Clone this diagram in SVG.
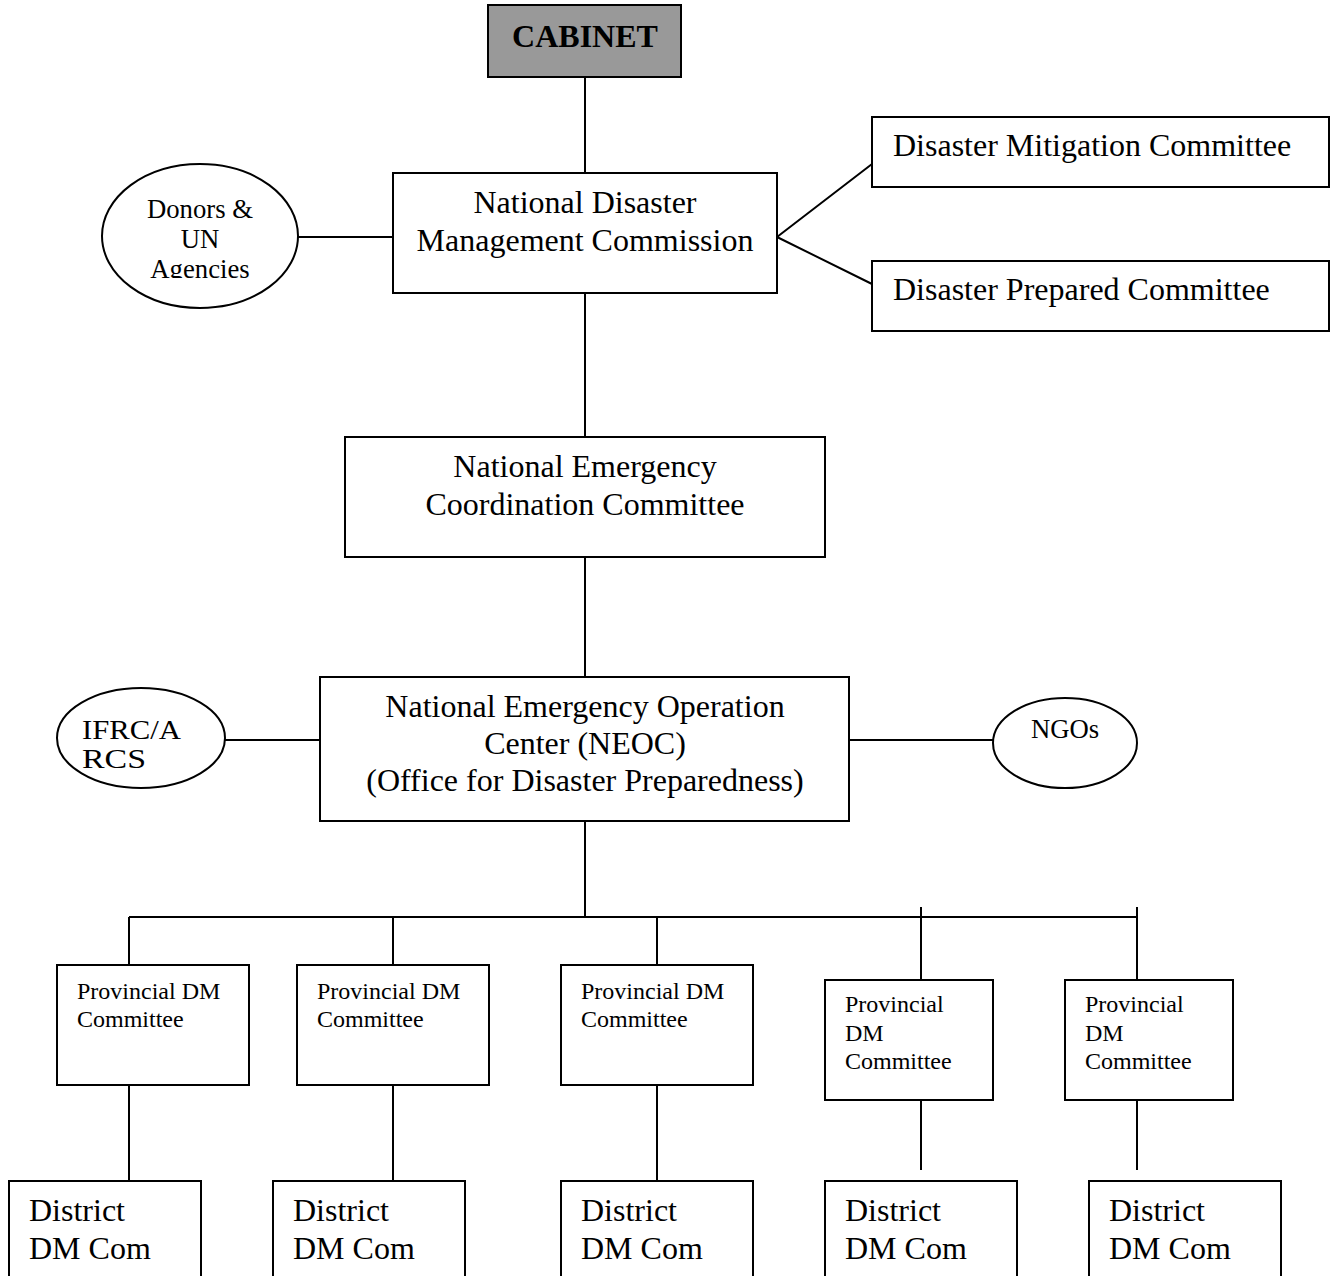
<svg xmlns="http://www.w3.org/2000/svg" width="1335" height="1276" viewBox="0 0 1335 1276">
<style>
.b{fill:#fff;stroke:#000;stroke-width:2}
.c{stroke:#000;stroke-width:2;fill:none}
text{font-family:"Liberation Serif","Times New Roman",serif;fill:#000}
.xl{font-size:32px}
.s{font-size:24px}
.m{font-size:26.7px}
.mid{text-anchor:middle}
</style>
<defs>
<clipPath id="clipD"><rect x="100" y="160" width="200" height="118"/></clipPath>
<clipPath id="clipI"><rect x="55" y="680" width="175" height="89"/></clipPath>
</defs>
<rect width="1335" height="1276" fill="#fff"/>
<g id="connectors">
<path class="c" d="M585,77V173M298,237H393M777,237L872,164M777,237L872,284M585,293V437M585,557V677M225,740H320M849,740H993M585,821V917M129,917H1137M129,917V965M393,917V965M657,917V965M921,907V980M1137,907V980M129,1085V1181M393,1085V1181M657,1085V1181M921,1100V1170M1137,1100V1170"/>
</g>
<g id="cabinet">
<rect x="488" y="5" width="193" height="72" fill="#999" stroke="#000" stroke-width="2"/>
<text x="585" y="47" class="xl mid" font-weight="bold">CABINET</text>
</g>
<g id="ndmc">
<rect class="b" x="393" y="173" width="384" height="120"/>
<text x="585" y="213" class="xl mid">National Disaster</text>
<text x="585" y="251" class="xl mid">Management Commission</text>
</g>
<g id="donors">
<ellipse class="b" cx="200" cy="236" rx="98" ry="72"/>
<g clip-path="url(#clipD)">
<text x="200" y="218" class="m mid">Donors &amp;</text>
<text x="200" y="248" class="m mid">UN</text>
<text x="200" y="278" class="m mid">Agencies</text>
</g>
</g>
<g id="mitigation">
<rect class="b" x="872" y="117" width="457" height="70"/>
<text x="893" y="156" class="xl">Disaster Mitigation Committee</text>
</g>
<g id="prepared">
<rect class="b" x="872" y="261" width="457" height="70"/>
<text x="893" y="300" class="xl">Disaster Prepared Committee</text>
</g>
<g id="necc">
<rect class="b" x="345" y="437" width="480" height="120"/>
<text x="585" y="477" class="xl mid">National Emergency</text>
<text x="585" y="515" class="xl mid">Coordination Committee</text>
</g>
<g id="neoc">
<rect class="b" x="320" y="677" width="529" height="144"/>
<text x="585" y="717" class="xl mid">National Emergency Operation</text>
<text x="585" y="754" class="xl mid">Center (NEOC)</text>
<text x="585" y="791" class="xl mid">(Office for Disaster Preparedness)</text>
</g>
<g id="ifrc">
<ellipse class="b" cx="141" cy="738" rx="84" ry="50"/>
<g clip-path="url(#clipI)">
<text x="82" y="739" class="m" textLength="99" lengthAdjust="spacingAndGlyphs">IFRC/A</text>
<text x="82" y="768" class="m" textLength="64" lengthAdjust="spacingAndGlyphs">RCS</text>
</g>
</g>
<g id="ngos">
<ellipse class="b" cx="1065" cy="743" rx="72" ry="45"/>
<text x="1065" y="738" class="m mid">NGOs</text>
</g>
<g id="prov1">
<rect class="b" x="57" y="965" width="192" height="120"/>
<text x="77" y="999" class="s">Provincial DM</text>
<text x="77" y="1027" class="s">Committee</text>
</g>
<g id="prov2">
<rect class="b" x="297" y="965" width="192" height="120"/>
<text x="317" y="999" class="s">Provincial DM</text>
<text x="317" y="1027" class="s">Committee</text>
</g>
<g id="prov3">
<rect class="b" x="561" y="965" width="192" height="120"/>
<text x="581" y="999" class="s">Provincial DM</text>
<text x="581" y="1027" class="s">Committee</text>
</g>
<g id="prov4">
<rect class="b" x="825" y="980" width="168" height="120"/>
<text x="845" y="1012" class="s">Provincial</text>
<text x="845" y="1041" class="s">DM</text>
<text x="845" y="1069" class="s">Committee</text>
</g>
<g id="prov5">
<rect class="b" x="1065" y="980" width="168" height="120"/>
<text x="1085" y="1012" class="s">Provincial</text>
<text x="1085" y="1041" class="s">DM</text>
<text x="1085" y="1069" class="s">Committee</text>
</g>
<g id="dist1">
<rect class="b" x="9" y="1181" width="192" height="110"/>
<text x="29" y="1221" class="xl">District</text>
<text x="29" y="1259" class="xl">DM Com</text>
</g>
<g id="dist2">
<rect class="b" x="273" y="1181" width="192" height="110"/>
<text x="293" y="1221" class="xl">District</text>
<text x="293" y="1259" class="xl">DM Com</text>
</g>
<g id="dist3">
<rect class="b" x="561" y="1181" width="192" height="110"/>
<text x="581" y="1221" class="xl">District</text>
<text x="581" y="1259" class="xl">DM Com</text>
</g>
<g id="dist4">
<rect class="b" x="825" y="1181" width="192" height="110"/>
<text x="845" y="1221" class="xl">District</text>
<text x="845" y="1259" class="xl">DM Com</text>
</g>
<g id="dist5">
<rect class="b" x="1089" y="1181" width="192" height="110"/>
<text x="1109" y="1221" class="xl">District</text>
<text x="1109" y="1259" class="xl">DM Com</text>
</g>
</svg>
